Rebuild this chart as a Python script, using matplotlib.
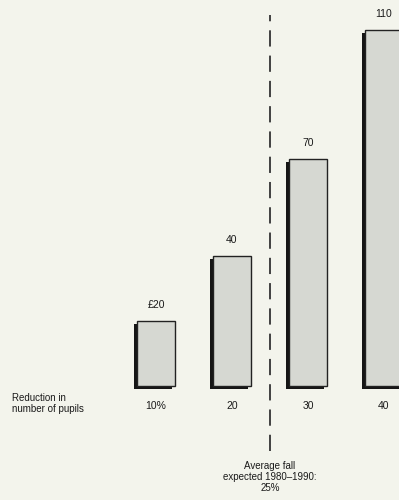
import matplotlib.pyplot as plt
import matplotlib.patheffects as pe

# Fall in pupil numbers (thousands) by percentage reduction
reduction = ["10%", "20", "30", "40"]
pupils = [20, 40, 70, 110]
value_labels = ["£20", "40", "70", "110"]
average_fall = 25  # per cent, 1980-1990

plt.rcParams['font.family'] = ['Liberation Sans', 'DejaVu Sans']

bg = "#f3f4ec"
fig = plt.figure(figsize=(3.99, 5), dpi=100, facecolor=bg)
ax = fig.add_axes([0, 0, 1, 1])
ax.set_facecolor(bg)

# pixel layout: bar centres 76 px apart, 0 at y=386 px, 3.24 px per unit
x = list(range(len(pupils)))
ax.set_xlim(-156 / 76, (399 - 156) / 76)
ax.set_ylim(-(500 - 386) / 3.24, 386 / 3.24)

shadow = [pe.SimplePatchShadow(offset=(-2.2, -2.2), shadow_rgbFace="#151515", alpha=1),
          pe.Normal()]
bars = ax.bar(x, pupils, width=0.5, color="#d6d8d2", edgecolor="#222222",
              linewidth=1.0, zorder=3)
for b in bars:
    b.set_path_effects(shadow)

for xi, v, lab in zip(x, pupils, value_labels):
    ax.text(xi, v + 3.4, lab, ha="center", va="bottom", fontsize=7.5,
            color="#1a1a1a")

for xi, lab in zip(x, reduction):
    ax.text(xi, -4.5, lab, ha="center", va="top", fontsize=7.5,
            color="#1a1a1a")

ax.text(-1.9, -2.2, "Reduction in\nnumber of pupils", ha="left", va="top",
        fontsize=7, color="#1a1a1a", linespacing=1.1)

# average fall marker, halfway between 20 and 30
avg_x = 1 + (average_fall - 20) / 10
ax.plot([avg_x, avg_x], [-20, 114.5], color="#333333", lw=1.3,
        dashes=(9, 5), zorder=2)
ax.text(avg_x, -23.3, "Average fall\nexpected 1980\u20131990:\n25%",
        ha="center", va="top", fontsize=7, color="#1a1a1a", linespacing=1.1)

ax.axis('off')
fig.savefig("out.png", dpi=100, facecolor=bg)
